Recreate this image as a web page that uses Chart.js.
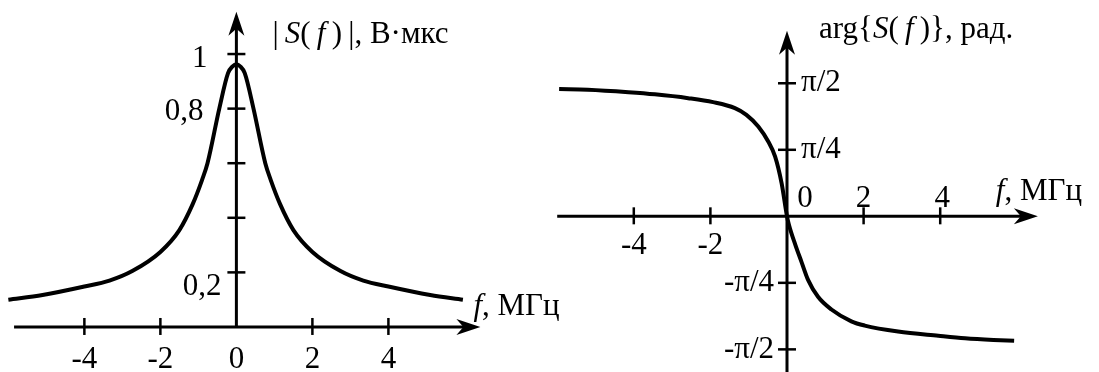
<!DOCTYPE html>
<html lang="ru">
<head>
<meta charset="utf-8">
<title>Спектр сигнала</title>
<script src="https://cdn.jsdelivr.net/npm/chart.js@4.4.0/dist/chart.umd.min.js"></script>
<style>
  html, body { margin: 0; padding: 0; background: #fff; }
  #wrap { position: relative; width: 1099px; height: 372px; }
  #wrap canvas { position: absolute; left: 0; top: 0; }
</style>
</head>
<body>
<div id="wrap">
  <canvas id="ampChart" width="1099" height="372"></canvas>
  <canvas id="phaseChart" width="1099" height="372"></canvas>
</div>
<script>
// амплитудный спектр |S(f)|, В·мкс
const ampFreq   = [-6.0, -5.1, -4.0, -3.34, -2.74, -2.0, -1.5, -1.15, -0.9, -0.76, -0.45, -0.22, -0.1, 0,
                   0.1, 0.22, 0.45, 0.76, 0.9, 1.15, 1.5, 2.0, 2.74, 3.34, 4.0, 5.1, 5.96];
const ampValues = [0.10, 0.117, 0.148, 0.17, 0.205, 0.275, 0.355, 0.45, 0.54, 0.60, 0.80, 0.93, 0.955, 0.963,
                   0.955, 0.93, 0.80, 0.60, 0.54, 0.45, 0.355, 0.275, 0.205, 0.17, 0.148, 0.117, 0.10];

// фазовый спектр arg{S(f)}, рад.
const phaseFreq   = [-5.95, -5.2, -4.14, -3.45, -2.58, -1.93, -1.36, -1.06, -0.75, -0.49, -0.31, -0.14, 0,
                     0.05, 0.22, 0.38, 0.55, 0.81, 1.16, 1.68, 2.03, 2.9, 3.95, 4.65, 5.39, 5.93];
const phaseValues = [1.502, 1.494, 1.465, 1.44, 1.395, 1.348, 1.277, 1.198, 1.06, 0.883, 0.706, 0.39, 0,
                     -0.1, -0.34, -0.54, -0.75, -0.95, -1.10, -1.24, -1.29, -1.36, -1.41, -1.44, -1.46, -1.47];

// деления осей
const ampXTicks       = [-4, -2, 0, 2, 4];
const ampXTickLabels  = ['-4', '-2', '0', '2', '4'];
const ampYTicks       = [0.2, 0.4, 0.6, 0.8, 1];
const ampYTickLabels  = ['0,2', '', '', '0,8', '1'];
const phaseXTicks      = [-4, -2, 0, 2, 4];
const phaseXTickLabels = ['-4', '-2', '0', '2', '4'];
const phaseYTicks      = [-Math.PI / 2, -Math.PI / 4, Math.PI / 4, Math.PI / 2];
const phaseYTickLabels = ['-π/2', '-π/4', 'π/4', 'π/2'];

const FONT = '"Liberation Serif", "Times New Roman", serif';
const FS = 31;

// текст с курсивными кусками: [[строка, курсив], ...]
function drawRich(ctx, parts, x, y) {
  let cx = x;
  ctx.textAlign = 'left';
  ctx.textBaseline = 'alphabetic';
  parts.forEach(([txt, italic]) => {
    ctx.font = (italic ? 'italic ' : '') + FS + 'px ' + FONT;
    ctx.fillText(txt, cx, y);
    cx += ctx.measureText(txt).width;
  });
}

// стрелка на конце оси
function drawArrow(ctx, x, y, dir) {
  const len = 24, half = 8, notch = 7;
  ctx.save();
  ctx.translate(x, y);
  if (dir === 'up') ctx.rotate(-Math.PI / 2);
  ctx.beginPath();
  ctx.moveTo(0, 0);
  ctx.lineTo(-len, -half);
  ctx.lineTo(-len + notch, 0);
  ctx.lineTo(-len, half);
  ctx.closePath();
  ctx.fill();
  ctx.restore();
}

// оси крестом через начало координат, со стрелками, делениями и подписями
const crossAxes = {
  id: 'crossAxes',
  beforeDatasetsDraw(chart, args, o) {
    const ctx = chart.ctx;
    const xs = chart.scales.x, ys = chart.scales.y;
    const x0 = xs.getPixelForValue(0), y0 = ys.getPixelForValue(0);
    ctx.save();
    ctx.fillStyle = '#000';
    ctx.strokeStyle = '#000';
    ctx.lineCap = 'butt';

    // ось f
    const xa = xs.getPixelForValue(o.xFrom), xb = xs.getPixelForValue(o.xTo);
    ctx.lineWidth = 3;
    ctx.beginPath();
    ctx.moveTo(xa, y0);
    ctx.lineTo(xb - 8, y0);
    ctx.stroke();
    drawArrow(ctx, xb, y0, 'right');

    // ось значений
    const ya = ys.getPixelForValue(o.yFrom), yb = ys.getPixelForValue(o.yTo);
    ctx.beginPath();
    ctx.moveTo(x0, ya);
    ctx.lineTo(x0, yb + 8);
    ctx.stroke();
    drawArrow(ctx, x0, yb, 'up');

    // деления
    ctx.lineWidth = 2.5;
    o.xTicks.forEach(v => {
      if (v === 0) return;
      const px = xs.getPixelForValue(v);
      ctx.beginPath();
      ctx.moveTo(px, y0 - 9);
      ctx.lineTo(px, y0 + 8);
      ctx.stroke();
    });
    o.yTicks.forEach(v => {
      const py = ys.getPixelForValue(v);
      ctx.beginPath();
      ctx.moveTo(x0 - 9, py);
      ctx.lineTo(x0 + 9, py);
      ctx.stroke();
    });

    // подписи делений
    ctx.font = FS + 'px ' + FONT;
    o.xTicks.forEach((v, i) => {
      const [dx, dy] = o.xLabelOffsets[i];
      ctx.textAlign = 'center';
      ctx.textBaseline = 'alphabetic';
      ctx.fillText(o.xTickLabels[i], xs.getPixelForValue(v) + dx, y0 + dy);
    });
    o.yTicks.forEach((v, i) => {
      if (!o.yTickLabels[i]) return;
      const [dx, dy, align, base] = o.yLabelOffsets[i];
      ctx.textAlign = align;
      ctx.textBaseline = base;
      ctx.fillText(o.yTickLabels[i], x0 + dx, ys.getPixelForValue(v) + dy);
    });

    // названия осей
    drawRich(ctx, o.yTitle, x0 + o.yTitlePos[0], o.yTitlePos[1]);
    drawRich(ctx, o.xTitle, xb + o.xTitlePos[0], o.xTitlePos[1]);
    ctx.restore();
  }
};

function makeChart(id, freq, values, area, axes) {
  return new Chart(document.getElementById(id), {
    type: 'line',
    data: {
      datasets: [{
        data: freq.map((f, i) => ({ x: f, y: values[i] })),
        borderColor: '#000',
        borderWidth: 4,
        pointRadius: 0,
        fill: false,
        cubicInterpolationMode: 'monotone'
      }]
    },
    options: {
      responsive: false,
      animation: false,
      devicePixelRatio: 1,
      layout: { padding: area.padding },
      scales: {
        x: { type: 'linear', display: false, min: area.xMin, max: area.xMax },
        y: { type: 'linear', display: false, min: area.yMin, max: area.yMax }
      },
      plugins: {
        legend: { display: false },
        tooltip: { enabled: false },
        crossAxes: axes
      }
    },
    plugins: [crossAxes]
  });
}

// |S(f)|
makeChart('ampChart', ampFreq, ampValues,
  { padding: { left: 0, right: 619, top: 0, bottom: 0 }, xMin: -6.22, xMax: 6.41, yMin: -0.165, yMax: 1.198 },
  {
    xFrom: -5.85, xTo: 6.42, yFrom: 0, yTo: 1.155,
    xTicks: ampXTicks, xTickLabels: ampXTickLabels,
    yTicks: ampYTicks, yTickLabels: ampYTickLabels,
    xLabelOffsets: [[0, 41], [0, 41], [0, 41], [0, 41], [0, 41]],
    yLabelOffsets: [[-15, 23, 'right', 'alphabetic'], [0, 0, 'right', 'alphabetic'], [0, 0, 'right', 'alphabetic'],
                    [-33, 11, 'right', 'alphabetic'], [-29, 13, 'right', 'alphabetic']],
    yTitle: [['|\u2009', false], ['S', true], ['(\u2009', false], ['f', true], ['\u2009)\u2009|, В·мкс', false]],
    yTitlePos: [36, 43],
    xTitle: [['f', true], [', МГц', false]],
    xTitlePos: [-7, 315]
  });

// arg{S(f)}
makeChart('phaseChart', phaseFreq, phaseValues,
  { padding: { left: 540, right: 0, top: 0, bottom: 0 }, xMin: -6.449, xMax: 8.146, yMin: -1.838, yMax: 2.554 },
  {
    xFrom: -6.0, xTo: 6.55, yFrom: -1.9, yTo: 2.19,
    xTicks: phaseXTicks, xTickLabels: phaseXTickLabels,
    yTicks: phaseYTicks, yTickLabels: phaseYTickLabels,
    xLabelOffsets: [[0, 38], [0, 38], [18, -9], [0, -9], [2, -9]],
    yLabelOffsets: [[-13, 0, 'right', 'middle'], [-13, 0, 'right', 'middle'], [14, 0, 'left', 'middle'], [14, 0, 'left', 'middle']],
    yTitle: [['arg{', false], ['S', true], ['(', false], ['\u2009f', true], ['\u2009)}, рад.', false]],
    yTitlePos: [32, 38],
    xTitle: [['f', true], [', МГц', false]],
    xTitlePos: [-42, 200]
  });
</script>
</body>
</html>
